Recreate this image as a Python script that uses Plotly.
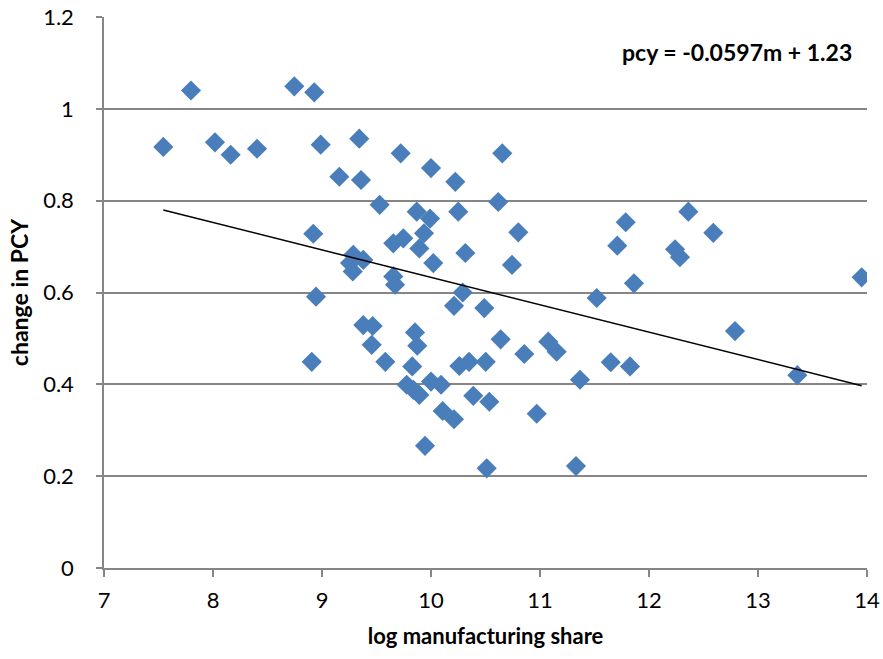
import numpy as np
import plotly.graph_objects as go

# Data
log_manuf_share = [
    7.544, 7.798, 8.018, 8.162, 8.404, 8.746, 8.929, 8.988, 9.159, 9.342,
    9.358, 9.529, 9.722, 10.000, 10.223, 10.654, 9.869, 9.991, 10.250, 10.617,
    8.920, 9.936, 9.746, 9.654, 9.893, 10.801, 10.315, 9.287, 9.379, 9.257,
    9.282, 10.743, 10.021, 9.654, 9.670, 10.291, 10.211, 10.489, 8.945, 9.379,
    9.465, 9.853, 9.456, 9.874, 10.639, 10.856, 8.906, 9.581, 9.828, 10.260,
    10.349, 10.502, 9.777, 9.838, 9.893, 10.000, 10.092, 10.388, 10.535, 10.107,
    10.211, 9.945, 10.511, 10.970, 11.076, 11.153, 11.367, 11.649, 11.826, 11.520,
    11.862, 11.709, 11.786, 12.239, 12.284, 12.361, 12.590, 12.789, 13.361, 13.951,
    11.330,
]
change_pcy = [
    0.917, 1.040, 0.927, 0.900, 0.913, 1.049, 1.036, 0.922, 0.852, 0.935,
    0.845, 0.791, 0.903, 0.871, 0.841, 0.903, 0.776, 0.761, 0.776, 0.797,
    0.728, 0.729, 0.718, 0.707, 0.696, 0.731, 0.686, 0.682, 0.671, 0.664,
    0.646, 0.660, 0.664, 0.635, 0.617, 0.600, 0.571, 0.566, 0.591, 0.529,
    0.527, 0.513, 0.486, 0.484, 0.498, 0.466, 0.449, 0.449, 0.439, 0.440,
    0.449, 0.449, 0.399, 0.388, 0.377, 0.406, 0.399, 0.375, 0.362, 0.342,
    0.324, 0.266, 0.217, 0.336, 0.493, 0.471, 0.410, 0.448, 0.439, 0.588,
    0.620, 0.702, 0.753, 0.694, 0.677, 0.776, 0.730, 0.516, 0.420, 0.633,
    0.222,
]
slope = -0.0597
intercept = 1.23
x_ticks = [7, 8, 9, 10, 11, 12, 13, 14]
y_ticks = [0, 0.2, 0.4, 0.6, 0.8, 1.0, 1.2]
y_tick_labels = ["0", "0.2", "0.4", "0.6", "0.8", "1", "1.2"]

trend_x = [min(log_manuf_share), max(log_manuf_share)]
trend_y = [slope * v + intercept for v in trend_x]

FONT = "Lato"
GRID = "#868686"

fig = go.Figure()
fig.add_trace(go.Scatter(
    x=log_manuf_share, y=change_pcy, mode="markers",
    marker=dict(symbol="diamond", size=15.5, color="#4A7EBB",
                line=dict(width=0)),
    showlegend=False, hoverinfo="x+y",
))
fig.add_trace(go.Scatter(
    x=trend_x, y=trend_y, mode="lines",
    line=dict(color="black", width=1.5),
    showlegend=False, hoverinfo="skip",
))

fig.update_layout(
    width=883, height=659,
    margin=dict(l=104, r=16, t=17, b=91),
    paper_bgcolor="white", plot_bgcolor="white",
    font=dict(family=FONT, size=22, color="black"),
    xaxis=dict(
        range=[7, 14], tickvals=x_ticks, ticktext=[str(v) for v in x_ticks],
        automargin=False,
        showgrid=False, zeroline=False,
        showline=True, linecolor=GRID, linewidth=1.5,
        ticks="outside", ticklen=7, tickcolor=GRID, tickwidth=1.5,
        ticklabelstandoff=5,
        title=dict(text="<b>log manufacturing share</b>",
                   font=dict(family=FONT, size=22), standoff=16),
    ),
    yaxis=dict(
        range=[0, 1.2], tickvals=y_ticks, ticktext=y_tick_labels,
        automargin=False,
        showgrid=True, gridcolor=GRID, gridwidth=1.5,
        zeroline=False,
        showline=True, linecolor=GRID, linewidth=1.5,
        ticks="outside", ticklen=6, tickcolor=GRID, tickwidth=1.5,
        ticklabelstandoff=18,
        title=dict(text="<b>change in PCY</b>",
                   font=dict(family=FONT, size=23), standoff=8),
    ),
    annotations=[dict(
        text="<b>pcy = -0.0597m + 1.23</b>",
        xref="paper", yref="paper", x=0.83, y=0.936,
        xanchor="center", yanchor="middle", showarrow=False,
        font=dict(family=FONT, size=23, color="black"),
    )],
)

fig.write_html("out.html")
